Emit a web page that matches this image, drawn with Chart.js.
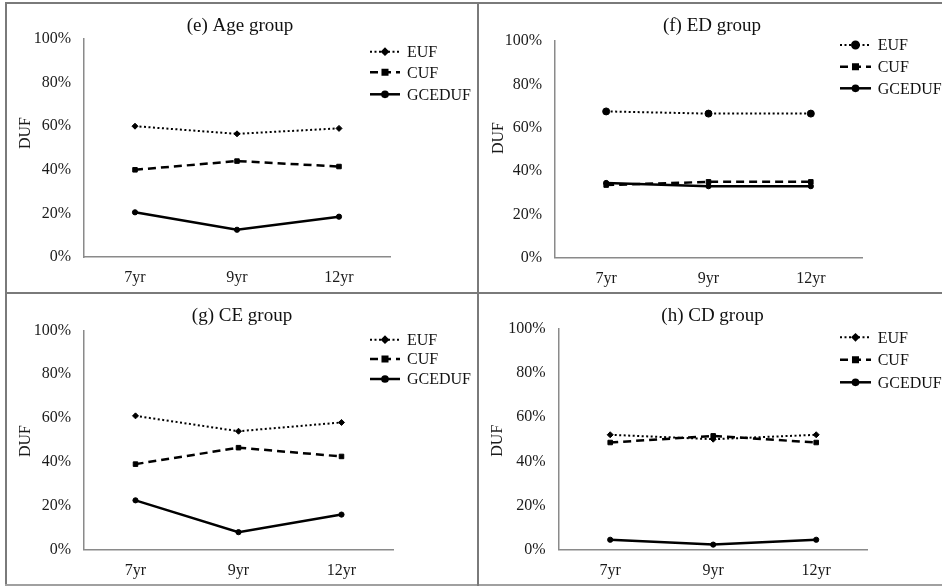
<!DOCTYPE html>
<html>
<head>
<meta charset="utf-8">
<script src="https://cdn.jsdelivr.net/npm/chart.js@4/dist/chart.umd.min.js"></script>
<style>
  html, body { margin: 0; padding: 0; background: #fff; }
  #wrap { position: relative; width: 942px; height: 586px; overflow: hidden; background: #fff; }
  #wrap canvas { position: absolute; }
  .rule { position: absolute; background: #7a7a7a; }
</style>
</head>
<body>
<div id="wrap">
  <canvas id="cE" width="470" height="288" style="left:7px;top:4px"></canvas>
  <canvas id="cF" width="463" height="288" style="left:479px;top:4px"></canvas>
  <canvas id="cG" width="470" height="290" style="left:7px;top:294px"></canvas>
  <canvas id="cH" width="463" height="290" style="left:479px;top:294px"></canvas>
  <div class="rule" style="left:5px;top:2px;width:937px;height:2px"></div>
  <div class="rule" style="left:5px;top:2px;width:2px;height:584px"></div>
  <div class="rule" style="left:5px;top:584px;width:937px;height:2px;background:#a0a0a0"></div>
  <div class="rule" style="left:477px;top:2px;width:2px;height:584px"></div>
  <div class="rule" style="left:5px;top:292px;width:937px;height:2px"></div>
</div>
<script>
// data (DUF, %)
const years = ['7yr', '9yr', '12yr'];
const seriesNames = ['EUF', 'CUF', 'GCEDUF'];
const axisLabel = 'DUF';

const ageEUF = [60, 56.5, 59];
const ageCUF = [40, 44, 41.5];
const ageGCEDUF = [20.5, 12.5, 18.5];

const edEUF = [67.5, 66.5, 66.5];
const edCUF = [33.5, 35, 35];
const edGCEDUF = [34.5, 33, 33];

const ceEUF = [61, 54, 58];
const ceCUF = [39, 46.5, 42.5];
const ceGCEDUF = [22.5, 8, 16];

const cdEUF = [52, 50, 52];
const cdCUF = [48.5, 51.5, 48.5];
const cdGCEDUF = [4.5, 2.3, 4.5];

const titles = ['(e) Age group', '(f) ED group', '(g) CE group', '(h) CD group'];

const SERIF = '"Liberation Serif", "Times New Roman", serif';
Chart.defaults.font.family = SERIF;
Chart.defaults.color = '#1a1a1a';

// per-panel layout (pixels inside each canvas)
const panels = [
  { id: 'cE', title: titles[0], data: [ageEUF, ageCUF, ageGCEDUF], euf: 'rectRot',
    yw: 77, top: 35, bottom: 35, right: 87, titleXY: [233, 22],
    leg: { x0: 363, x1: 393, tx: 400, ys: [47.7, 68.3, 90.3] }, duf: [19, 129] },
  { id: 'cF', title: titles[1], data: [edEUF, edCUF, edGCEDUF], euf: 'circle',
    yw: 76, top: 37, bottom: 34.3, right: 80, titleXY: [233, 22],
    leg: { x0: 361, x1: 392, tx: 398.7, ys: [41, 62.7, 84.3] }, duf: [19.5, 134] },
  { id: 'cG', title: titles[2], data: [ceEUF, ceCUF, ceGCEDUF], euf: 'rectRot',
    yw: 77, top: 36.3, bottom: 34.3, right: 84, titleXY: [235, 21.7],
    leg: { x0: 363, x1: 393, tx: 400, ys: [45.7, 65, 85] }, duf: [19, 147] },
  { id: 'cH', title: titles[3], data: [cdEUF, cdCUF, cdGCEDUF], euf: 'rectRot',
    yw: 79.7, top: 34.7, bottom: 34.3, right: 74.3, titleXY: [233.5, 21.7],
    leg: { x0: 361, x1: 392, tx: 398.7, ys: [43.3, 65.7, 88.3] }, duf: [18.5, 146.7] }
];

// title, side legend and axis title drawn at fixed spots like the original layout
const panelText = {
  id: 'panelText',
  afterDraw(chart, args, opts) {
    const ctx = chart.ctx;
    const leg = opts.leg;
    ctx.save();
    ctx.fillStyle = '#111';
    ctx.font = '19px ' + SERIF;
    ctx.textAlign = 'center';
    ctx.textBaseline = 'middle';
    ctx.fillText(opts.title, opts.titleXY[0], opts.titleXY[1]);

    chart.data.datasets.forEach((ds, i) => {
      const y = leg.ys[i];
      ctx.strokeStyle = '#000';
      ctx.lineWidth = ds.borderWidth;
      ctx.setLineDash(ds.borderDash || []);
      ctx.beginPath();
      ctx.moveTo(leg.x0, y);
      ctx.lineTo(leg.x1, y);
      ctx.stroke();
      ctx.setLineDash([]);
      ctx.fillStyle = '#000';
      Chart.helpers.drawPoint(ctx, { pointStyle: ds.pointStyle, radius: ds.pointRadius, rotation: 0, borderWidth: 1 },
        (leg.x0 + leg.x1) / 2, y);
      ctx.fillStyle = '#111';
      ctx.font = '16px ' + SERIF;
      ctx.textAlign = 'left';
      ctx.textBaseline = 'middle';
      ctx.fillText(ds.label, leg.tx, y + 1);
    });

    ctx.translate(opts.duf[0], opts.duf[1]);
    ctx.rotate(-Math.PI / 2);
    ctx.font = '16px ' + SERIF;
    ctx.textAlign = 'center';
    ctx.textBaseline = 'middle';
    ctx.fillStyle = '#1a1a1a';
    ctx.fillText(axisLabel, 0, 0);
    ctx.restore();
  }
};

panels.forEach(p => {
  new Chart(document.getElementById(p.id), {
    type: 'line',
    data: {
      labels: years,
      datasets: [
        { label: seriesNames[0], data: p.data[0], borderColor: '#000', backgroundColor: '#000',
          borderWidth: 2, borderDash: [2, 2.5], pointStyle: p.euf, pointRadius: p.euf === 'circle' ? 3.5 : 3,
          pointBorderWidth: 1, tension: 0 },
        { label: seriesNames[1], data: p.data[1], borderColor: '#000', backgroundColor: '#000',
          borderWidth: 2.5, borderDash: [8, 5], pointStyle: 'rect', pointRadius: 3.2,
          pointBorderWidth: 1, tension: 0 },
        { label: seriesNames[2], data: p.data[2], borderColor: '#000', backgroundColor: '#000',
          borderWidth: 2.5, pointStyle: 'circle', pointRadius: 2.6,
          pointBorderWidth: 1, tension: 0 }
      ]
    },
    options: {
      responsive: false,
      animation: false,
      devicePixelRatio: 1,
      layout: { padding: { top: p.top, right: p.right, bottom: 0, left: 0 } },
      plugins: {
        legend: { display: false },
        tooltip: { enabled: false },
        title: { display: false },
        panelText: { title: p.title, titleXY: p.titleXY, leg: p.leg, duf: p.duf }
      },
      scales: {
        x: {
          offset: true,
          grid: { display: false, drawTicks: false },
          border: { display: true, color: '#8a8a8a', width: 1.5 },
          ticks: { font: { size: 16 }, padding: 11, color: '#1a1a1a' },
          afterFit: axis => { axis.height = p.bottom; }
        },
        y: {
          min: 0, max: 100,
          grid: { display: false, drawTicks: false },
          border: { display: true, color: '#8a8a8a', width: 1.5 },
          ticks: { stepSize: 20, font: { size: 16 }, padding: 13, color: '#1a1a1a',
            callback: v => v + '%' },
          afterFit: axis => { axis.width = p.yw; }
        }
      }
    },
    plugins: [panelText]
  });
});
</script>
</body>
</html>
